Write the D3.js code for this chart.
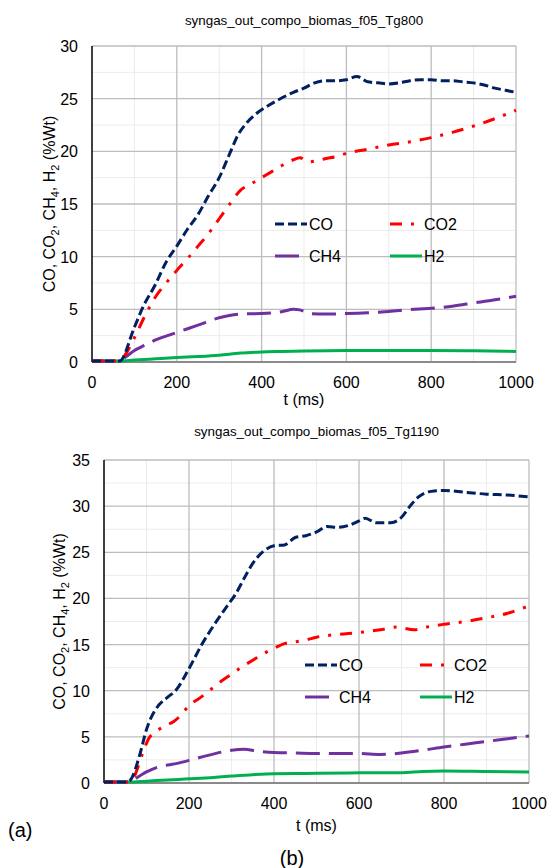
<!DOCTYPE html>
<html>
<head>
<meta charset="utf-8">
<script src="https://cdn.jsdelivr.net/npm/d3@7"></script>
<style>
    body { margin: 0; background: #fff; }
    svg text { font-family: "Liberation Sans", Arial, sans-serif; fill: #000; }
</style>
</head>
<body>
<svg class="chart" width="548" height="868"></svg>
<script>
// time in ms, values in %Wt
var seriesNames = ["CO", "CO2", "CH4", "H2"];
var xTicks = [0, 200, 400, 600, 800, 1000];
var yTicksTg800 = [0, 5, 10, 15, 20, 25, 30];
var yTicksTg1190 = [0, 5, 10, 15, 20, 25, 30, 35];

var coTg800 = [[0, 0.1], [50, 0.1], [65, 0.1], [100, 3.3], [120, 5.2], [150, 7.4], [175, 9.5], [200, 11.0],
    [225, 12.6], [250, 14.0], [275, 15.8], [300, 17.5], [325, 19.8], [345, 21.6], [365, 22.7], [385, 23.5],
    [410, 24.2], [440, 24.9], [475, 25.6], [500, 26.0], [525, 26.5], [550, 26.7], [575, 26.7], [600, 26.8],
    [625, 27.1], [650, 26.6], [675, 26.5], [700, 26.4], [725, 26.5], [750, 26.7], [775, 26.8], [800, 26.8],
    [825, 26.7], [850, 26.7], [875, 26.6], [900, 26.5], [925, 26.3], [950, 26.0], [975, 25.8], [1000, 25.6]];
var co2Tg800 = [[0, 0.1], [65, 0.1], [75, 0.5], [100, 2.3], [125, 4.4], [150, 6.2], [175, 7.5], [200, 8.7],
    [225, 9.8], [250, 11.0], [275, 12.2], [300, 13.6], [325, 15.0], [350, 16.3], [375, 16.9], [400, 17.5],
    [425, 18.1], [450, 18.7], [475, 19.2], [490, 19.4], [510, 19.0], [530, 19.1], [550, 19.3], [575, 19.5],
    [600, 19.8], [650, 20.2], [700, 20.6], [750, 20.9], [800, 21.3], [850, 21.8], [900, 22.4], [950, 23.1],
    [1000, 23.9]];
var ch4Tg800 = [[0, 0.1], [65, 0.1], [80, 0.5], [100, 1.1], [125, 1.6], [150, 2.1], [200, 2.8], [250, 3.5],
    [300, 4.2], [350, 4.55], [400, 4.6], [450, 4.8], [475, 5.0], [490, 4.95], [515, 4.6], [550, 4.55],
    [600, 4.6], [650, 4.68], [700, 4.8], [750, 4.97], [800, 5.1], [850, 5.3], [900, 5.6], [950, 5.9],
    [1000, 6.25]];
var h2Tg800 = [[0, 0.1], [60, 0.1], [100, 0.18], [150, 0.3], [200, 0.42], [250, 0.52], [300, 0.65],
    [350, 0.85], [400, 0.95], [450, 1.0], [500, 1.05], [600, 1.1], [700, 1.08], [800, 1.1], [900, 1.07],
    [1000, 1.0]];

var coTg1190 = [[0, 0.1], [55, 0.1], [62, 0.3], [85, 3.2], [100, 5.8], [110, 7.0], [130, 8.5], [150, 9.3],
    [170, 10.1], [200, 12.4], [230, 15.0], [260, 17.2], [290, 19.2], [310, 20.5], [330, 22.2], [350, 23.8],
    [375, 25.1], [400, 25.7], [425, 25.8], [450, 26.6], [475, 26.8], [500, 27.2], [525, 27.8], [550, 27.7],
    [575, 27.9], [600, 28.4], [615, 28.7], [640, 28.2], [675, 28.2], [700, 28.8], [720, 30.0], [740, 31.0],
    [770, 31.6], [800, 31.7], [850, 31.5], [900, 31.3], [950, 31.2], [1000, 31.0]];
var co2Tg1190 = [[0, 0.1], [60, 0.1], [70, 0.6], [90, 3.1], [105, 4.8], [120, 5.5], [140, 6.1], [165, 6.7],
    [180, 7.3], [200, 8.4], [225, 9.2], [250, 10.1], [275, 11.0], [300, 11.8], [325, 12.6], [350, 13.3],
    [375, 14.0], [400, 14.6], [425, 15.1], [450, 15.3], [475, 15.5], [500, 15.8], [550, 16.1], [600, 16.3],
    [650, 16.6], [690, 16.9], [730, 16.6], [760, 16.9], [800, 17.2], [850, 17.5], [900, 17.9], [950, 18.4],
    [1000, 19.2]];
var ch4Tg1190 = [[0, 0.1], [62, 0.1], [75, 0.5], [100, 1.2], [125, 1.7], [150, 1.95], [175, 2.15], [200, 2.45],
    [250, 3.05], [300, 3.55], [330, 3.65], [360, 3.45], [400, 3.3], [450, 3.25], [500, 3.2], [550, 3.2],
    [600, 3.2], [650, 3.1], [700, 3.25], [750, 3.55], [800, 3.9], [850, 4.2], [900, 4.5], [950, 4.8],
    [1000, 5.1]];
var h2Tg1190 = [[0, 0.1], [60, 0.1], [100, 0.2], [150, 0.33], [200, 0.45], [250, 0.58], [300, 0.75],
    [350, 0.9], [400, 1.0], [450, 1.02], [500, 1.05], [600, 1.1], [700, 1.12], [750, 1.25], [800, 1.3],
    [900, 1.25], [1000, 1.2]];

var seriesStyles = {
    CO: { color: "#002060", dash: "9,4" },
    CO2: { color: "#ff0000", dash: "12,9,3,9" },
    CH4: { color: "#7030a0", dash: "24,9" },
    H2: { color: "#00b050", dash: null }
};

var panels = [
    {
        title: "syngas_out_compo_biomas_f05_Tg800",
        series: [coTg800, co2Tg800, ch4Tg800, h2Tg800],
        yMax: 30, yTicks: yTicksTg800,
        left: 92, right: 516, top: 46, bottom: 362,
        titleY: 25, yLabelX: 55, xLabelY: 405,
        legendX: 275, legendY: 224
    },
    {
        title: "syngas_out_compo_biomas_f05_Tg1190",
        series: [coTg1190, co2Tg1190, ch4Tg1190, h2Tg1190],
        yMax: 35, yTicks: yTicksTg1190,
        left: 104, right: 529, top: 460, bottom: 783,
        titleY: 436, yLabelX: 65, xLabelY: 831,
        legendX: 305, legendY: 665
    }
];

var svg = d3.select("svg.chart");

function drawPanel(p) {
    var g = svg.append("g");
    var x = d3.scaleLinear().domain([0, 1000]).range([p.left, p.right]);
    var y = d3.scaleLinear().domain([0, p.yMax]).range([p.bottom, p.top]);

    // minor grid (every 100 ms / 2.5 %)
    g.selectAll("line.minor-x")
        .data(d3.range(100, 1000, 200))
        .enter().append("line")
        .attr("x1", function (d) { return x(d); }).attr("x2", function (d) { return x(d); })
        .attr("y1", p.top).attr("y2", p.bottom)
        .attr("stroke", "#ebebeb").attr("stroke-width", 1);
    g.selectAll("line.minor-y")
        .data(d3.range(2.5, p.yMax, 5))
        .enter().append("line")
        .attr("x1", p.left).attr("x2", p.right)
        .attr("y1", function (d) { return y(d); }).attr("y2", function (d) { return y(d); })
        .attr("stroke", "#ebebeb").attr("stroke-width", 1);

    // major grid
    g.selectAll("line.major-x")
        .data(xTicks.slice(1))
        .enter().append("line")
        .attr("x1", function (d) { return x(d); }).attr("x2", function (d) { return x(d); })
        .attr("y1", p.top).attr("y2", p.bottom)
        .attr("stroke", "#bdbdbd").attr("stroke-width", 1.3);
    g.selectAll("line.major-y")
        .data(p.yTicks.slice(1))
        .enter().append("line")
        .attr("x1", p.left).attr("x2", p.right)
        .attr("y1", function (d) { return y(d); }).attr("y2", function (d) { return y(d); })
        .attr("stroke", "#bdbdbd").attr("stroke-width", 1.3);

    // axes lines
    g.append("line")
        .attr("x1", p.left).attr("x2", p.right)
        .attr("y1", p.bottom).attr("y2", p.bottom)
        .attr("stroke", "#8a8a8a").attr("stroke-width", 1.8);
    g.append("line")
        .attr("x1", p.left).attr("x2", p.left)
        .attr("y1", p.top).attr("y2", p.bottom)
        .attr("stroke", "#000").attr("stroke-width", 1.5);

    // tick labels
    g.selectAll("text.xtick")
        .data(xTicks)
        .enter().append("text")
        .attr("x", function (d) { return x(d); })
        .attr("y", p.bottom + 26)
        .attr("text-anchor", "middle")
        .style("font-size", "16px")
        .text(function (d) { return d; });
    g.selectAll("text.ytick")
        .data(p.yTicks)
        .enter().append("text")
        .attr("x", p.left - 14)
        .attr("y", function (d) { return y(d) + 6; })
        .attr("text-anchor", "end")
        .style("font-size", "16px")
        .text(function (d) { return d; });

    // title and axis titles
    g.append("text")
        .attr("x", (p.left + p.right) / 2).attr("y", p.titleY)
        .attr("text-anchor", "middle")
        .style("font-size", "13.4px")
        .text(p.title);
    g.append("text")
        .attr("x", (p.left + p.right) / 2).attr("y", p.xLabelY)
        .attr("text-anchor", "middle")
        .style("font-size", "16px")
        .text("t (ms)");

    var yLabel = g.append("text")
        .attr("transform", "translate(" + p.yLabelX + "," + ((p.top + p.bottom) / 2) + ") rotate(-90)")
        .attr("text-anchor", "middle")
        .style("font-size", "16px");
    var parts = [["CO, CO", false], ["2", true], [", CH", false], ["4", true], [", H", false], ["2", true], [" (%Wt)", false]];
    var shifted = false;
    parts.forEach(function (part) {
        var dy = part[1] ? 4 : (shifted ? -4 : 0);
        shifted = part[1];
        yLabel.append("tspan")
            .attr("dy", dy)
            .style("font-size", part[1] ? "11px" : "16px")
            .text(part[0]);
    });

    // series
    var line = d3.line()
        .x(function (d) { return x(d[0]); })
        .y(function (d) { return y(d[1]); })
        .curve(d3.curveMonotoneX);

    var order = [3, 2, 1, 0];
    order.forEach(function (i) {
        var style = seriesStyles[seriesNames[i]];
        g.append("path")
            .datum(p.series[i])
            .attr("d", line)
            .attr("fill", "none")
            .attr("stroke", style.color)
            .attr("stroke-width", 3)
            .attr("stroke-dasharray", style.dash);
    });

    // legend, 2 columns x 2 rows
    seriesNames.forEach(function (name, i) {
        var style = seriesStyles[name];
        var lx = p.legendX + (i % 2) * 115;
        var ly = p.legendY + Math.floor(i / 2) * 32;
        g.append("line")
            .attr("x1", lx).attr("x2", lx + 32)
            .attr("y1", ly).attr("y2", ly)
            .attr("stroke", style.color)
            .attr("stroke-width", 3)
            .attr("stroke-dasharray", style.dash);
        g.append("text")
            .attr("x", lx + 34).attr("y", ly + 6)
            .style("font-size", "16px")
            .text(name);
    });
}

panels.forEach(drawPanel);

svg.append("text")
    .attr("x", 8).attr("y", 837)
    .style("font-size", "20px")
    .text("(a)");
svg.append("text")
    .attr("x", 292).attr("y", 865)
    .attr("text-anchor", "middle")
    .style("font-size", "20px")
    .text("(b)");
</script>
</body>
</html>
